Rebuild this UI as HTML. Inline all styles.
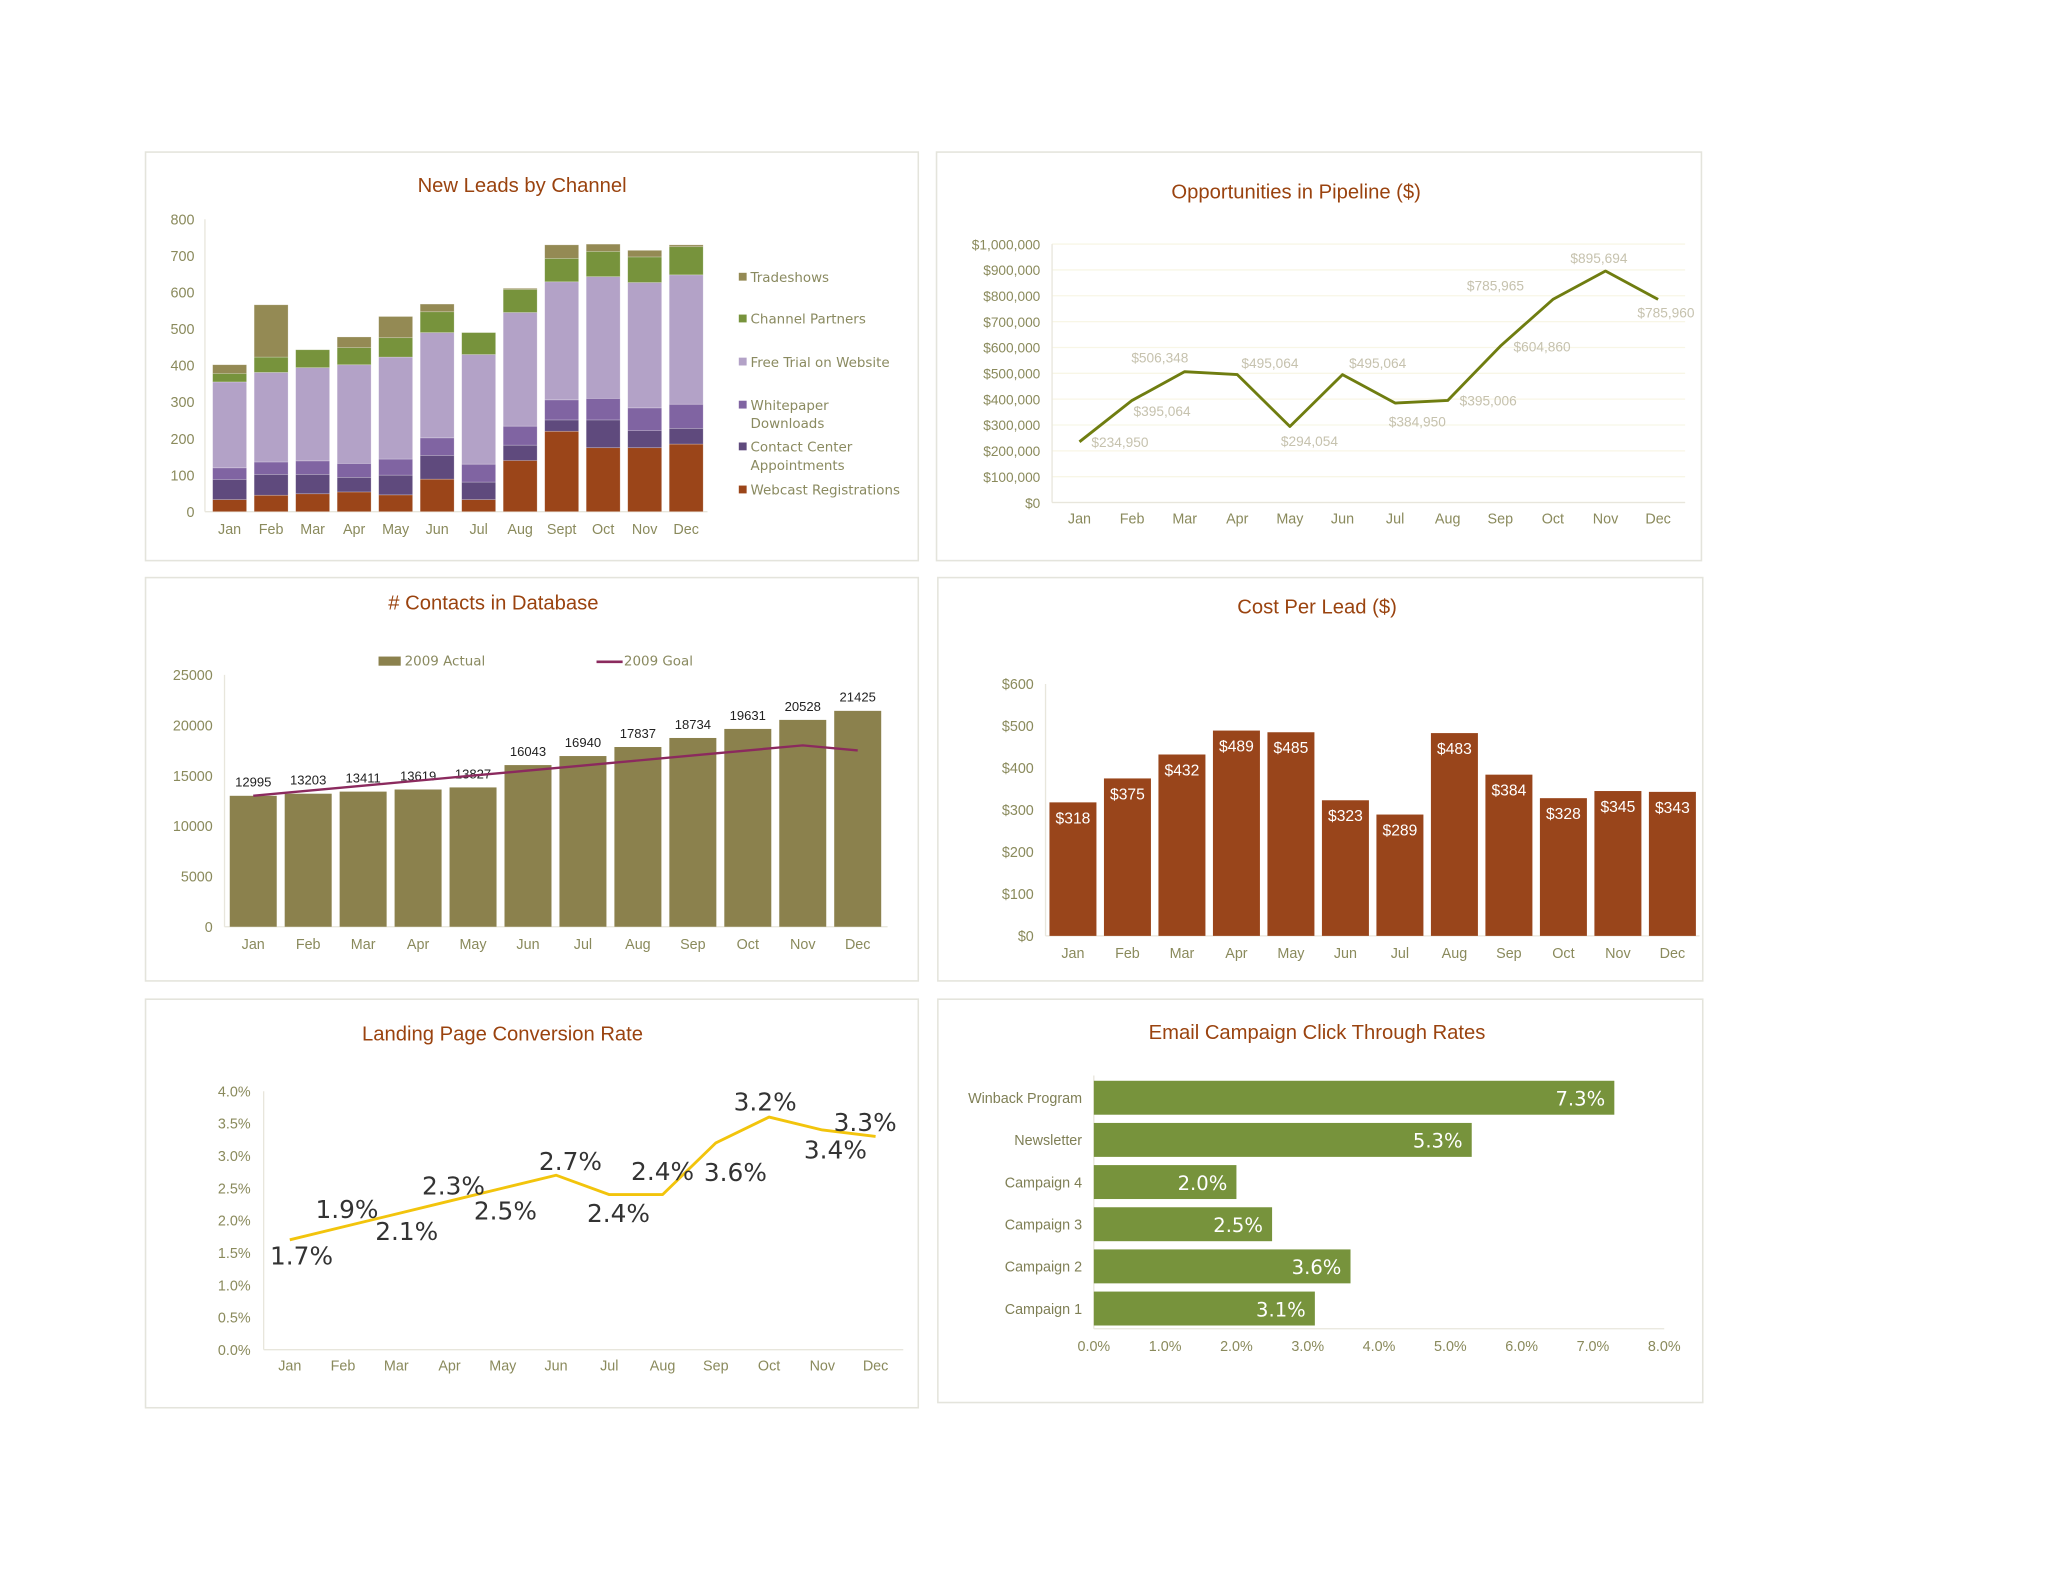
<!DOCTYPE html>
<html><head><meta charset="utf-8">
<style>
html,body{margin:0;padding:0;background:#fff;}
svg{display:block;font-family:"Liberation Sans",sans-serif;}
</style></head>
<body>
<svg id="dash" width="2048" height="1582" viewBox="0 0 1569 1212" xmlns="http://www.w3.org/2000/svg">
  <g fill="#fff" stroke="#e4e4dc" stroke-width="1.2">
    <rect x="111.5" y="116.5" width="592" height="313"/>
    <rect x="717.5" y="116.5" width="586" height="313"/>
    <rect x="111.5" y="442.5" width="592" height="309"/>
    <rect x="718.5" y="442.5" width="586" height="309"/>
    <rect x="111.5" y="765.5" width="592" height="313"/>
    <rect x="718.5" y="765.5" width="586" height="309"/>
  </g>
  <g fill="#9a430f" font-size="15.5" text-anchor="middle">
    <text x="400" y="147">New Leads by Channel</text>
    <text x="993" y="152">Opportunities in Pipeline ($)</text>
    <text x="378" y="467">&#35; Contacts in Database</text>
    <text x="1009" y="470">Cost Per Lead ($)</text>
    <text x="385" y="797">Landing Page Conversion Rate</text>
    <text x="1009" y="796">Email Campaign Click Through Rates</text>
  </g>
  <g id="g-leads"></g>
  <g id="g-pipe"></g>
  <g id="g-contacts"></g>
  <g id="g-cpl"></g>
  <g id="g-conv"></g>
  <g id="g-email"></g>
</svg>
<script>
// ---------- data ----------
const months = ["Jan","Feb","Mar","Apr","May","Jun","Jul","Aug","Sep","Oct","Nov","Dec"];
const leadMonths = ["Jan","Feb","Mar","Apr","May","Jun","Jul","Aug","Sept","Oct","Nov","Dec"];
const webcast = [33,45,49,54,46,89,33,140,220,175,175,185];
const contactCenter = [55,57,53,40,54,65,48,42,31,76,47,43];
const whitepaper = [32,34,37,38,44,48,49,52,55,59,62,66];
const freeTrial = [235,245,255,270,279,288,300,311,323,333,343,354];
const channelPartners = [23,42,49,47,53,57,60,63,64,69,70,77];
const tradeshows = [24,143,0,29,58,21,0,3,37,20,18,5];
const leadTicks = [0,100,200,300,400,500,600,700,800];

const pipeline = [234950,395064,506348,495064,294054,495064,384950,395006,604860,785965,895694,785960];
const pipeTicks = [0,100000,200000,300000,400000,500000,600000,700000,800000,900000,1000000];

const contactsActual = [12995,13203,13411,13619,13827,16043,16940,17837,18734,19631,20528,21425];
const contactsGoal = [13000,13500,14000,14500,15000,15500,16000,16500,17000,17500,18000,17500];
const contactTicks = [0,5000,10000,15000,20000,25000];

const costPerLead = [318,375,432,489,485,323,289,483,384,328,345,343];
const cplTicks = [0,100,200,300,400,500,600];

const conversion = [1.7,1.9,2.1,2.3,2.5,2.7,2.4,2.4,3.2,3.6,3.4,3.3];
const conversionLabels = ["1.7%","1.9%","2.1%","2.3%","2.5%","2.7%","2.4%","2.4%","3.6%","3.2%","3.4%","3.3%"];
const convTicks = [0,0.5,1,1.5,2,2.5,3,3.5,4];

const campaigns = ["Winback Program","Newsletter","Campaign 4","Campaign 3","Campaign 2","Campaign 1"];
const clickRates = [7.3,5.3,2.0,2.5,3.6,3.1];
const emailTicks = [0,1,2,3,4,5,6,7,8];

// ---------- helpers ----------
const NS="http://www.w3.org/2000/svg";
function mk(parent,tag,attrs,txt){const e=document.createElementNS(NS,tag);for(const k in attrs)e.setAttribute(k,attrs[k]);if(txt!==undefined)e.textContent=txt;parent.appendChild(e);return e;}
function lin(d0,d1,r0,r1){return v=>r0+(v-d0)/(d1-d0)*(r1-r0);}
function fmtMoney(v){return "$"+v.toLocaleString("en-US");}
const AX="#8a8a5c", GRID="#e8e6dc";

// ---------- leads stacked ----------
(function(){
  const g=document.getElementById("g-leads");
  const y=lin(0,800,392,168), x0=160, step=31.8, bw=26;
  const xc=i=>x0+step*i+step/2;
  mk(g,"line",{x1:157,y1:168,x2:157,y2:392,stroke:GRID});
  mk(g,"line",{x1:157,y1:392,x2:542,y2:392,stroke:GRID});
  leadTicks.forEach(t=>{const e=mk(g,"text",{x:149,y:y(t)+4,"text-anchor":"end","font-size":11,fill:AX},t);
    });
  const series=[["webcast",webcast,"#9b4519"],["contact-center",contactCenter,"#5f4a7d"],["whitepaper",whitepaper,"#8064a2"],["free-trial",freeTrial,"#b3a2c7"],["channel-partners",channelPartners,"#77933c"],["tradeshows",tradeshows,"#948a54"]];
  leadMonths.forEach((m,i)=>{
    let acc=0;
    series.forEach(s=>{const v=s[1][i];if(v<=0)return;
      const r=mk(g,"rect",{x:xc(i)-bw/2,y:y(acc+v),width:bw,height:y(acc)-y(acc+v),fill:s[2],stroke:"#fff","stroke-opacity":0.35,"stroke-width":0.5});
      
      acc+=v;});
    const t=mk(g,"text",{x:xc(i),y:409,"text-anchor":"middle","font-size":11,fill:AX},m);
    
  });
  const leg=[["Tradeshows","#948a54",216],["Channel Partners","#77933c",248],["Free Trial on Website","#b3a2c7",281],["Whitepaper","#8064a2",314],["Contact Center","#5f4a7d",346],["Webcast Registrations","#9b4519",379]];
  leg.forEach(l=>{const r=mk(g,"rect",{x:566,y:l[2]-7,width:6,height:6,fill:l[1]});
    
    const t=mk(g,"text",{x:575,y:l[2],fill:"#8a8a60","font-family":"DejaVu Sans, sans-serif","font-size":10.3},l[0]);
    });
  [["Downloads",328],["Appointments",360]].forEach(l=>{const t=mk(g,"text",{x:575,y:l[1],"font-size":10.3,fill:"#8a8a60","font-family":"DejaVu Sans, sans-serif"},l[0]);
    });
})();

// ---------- pipeline line ----------
(function(){
  const g=document.getElementById("g-pipe");
  const y=lin(0,1000000,385,187), x=i=>827+i*40.3;
  pipeTicks.forEach(t=>{mk(g,"line",{x1:806,y1:y(t),x2:1291,y2:y(t),stroke:"#f8f6e6"});
    const e=mk(g,"text",{x:797,y:y(t)+4,"text-anchor":"end","font-size":10.5,fill:AX},fmtMoney(t));
    });
  mk(g,"line",{x1:806,y1:187,x2:806,y2:385,stroke:GRID});
  mk(g,"line",{x1:806,y1:385,x2:1291,y2:385,stroke:GRID});
  months.forEach((m,i)=>{const t=mk(g,"text",{x:x(i),y:401,"text-anchor":"middle","font-size":11,fill:AX},m);
    });
  const p=mk(g,"polyline",{points:pipeline.map((v,i)=>x(i)+","+y(v)).join(" "),fill:"none",stroke:"#6f7d10","stroke-width":2.2,"stroke-linejoin":"round"});
  
  const off=[[31,0],[23,8],[-19,-11],[25,-9],[15,11],[27,-9],[17,14],[31,0],[32,0],[-44,-11],[-5,-10],[6,10]];
  pipeline.forEach((v,i)=>{const t=mk(g,"text",{x:x(i)+off[i][0],y:y(v)+off[i][1]+4,"text-anchor":"middle","font-size":10.5,fill:"#c6c2ae"},fmtMoney(v));
    });
})();

// ---------- contacts ----------
(function(){
  const g=document.getElementById("g-contacts");
  const y=lin(0,25000,710,517), step=42.1, x=i=>194+i*step, bw=36;
  contactTicks.forEach(t=>{const e=mk(g,"text",{x:163,y:y(t)+4,"text-anchor":"end","font-size":11,fill:AX},t);
    });
  mk(g,"line",{x1:172,y1:517,x2:172,y2:710,stroke:GRID});
  mk(g,"line",{x1:172,y1:710,x2:680,y2:710,stroke:GRID});
  contactsActual.forEach((v,i)=>{
    const r=mk(g,"rect",{x:x(i)-bw/2,y:y(v),width:bw,height:710-y(v),fill:"#8b814d"});
    
    const t=mk(g,"text",{x:x(i),y:y(v)-7,"text-anchor":"middle","font-size":10,fill:"#222"},v);
    
    const m=mk(g,"text",{x:x(i),y:727,"text-anchor":"middle","font-size":11,fill:AX},months[i]);
    
  });
  const p=mk(g,"polyline",{points:contactsGoal.map((v,i)=>x(i)+","+y(v)).join(" "),fill:"none",stroke:"#8b2a5e","stroke-width":1.8});
  
  const s=mk(g,"rect",{x:290,y:503,width:17,height:7,fill:"#8b814d"});
  
  const l1=mk(g,"text",{x:310,y:510,"font-size":10.3,fill:"#8a8a60","font-family":"DejaVu Sans, sans-serif"},"2009 Actual");
  
  const ln=mk(g,"line",{x1:457,y1:507,x2:477,y2:507,stroke:"#8b2a5e","stroke-width":2});
  
  const l2=mk(g,"text",{x:478,y:510,"font-size":10.3,fill:"#8a8a60","font-family":"DejaVu Sans, sans-serif"},"2009 Goal");
  
})();

// ---------- cost per lead ----------
(function(){
  const g=document.getElementById("g-cpl");
  const y=lin(0,600,717,524), step=41.75, x=i=>822+i*step, bw=36;
  cplTicks.forEach(t=>{const e=mk(g,"text",{x:792,y:y(t)+4,"text-anchor":"end","font-size":11,fill:AX},"$"+t);
    });
  mk(g,"line",{x1:801,y1:524,x2:801,y2:717,stroke:GRID});
  mk(g,"line",{x1:801,y1:717,x2:1302,y2:717,stroke:GRID});
  costPerLead.forEach((v,i)=>{
    const r=mk(g,"rect",{x:x(i)-bw/2,y:y(v),width:bw,height:717-y(v),fill:"#99451b"});
    
    const t=mk(g,"text",{x:x(i),y:y(v)+16,"text-anchor":"middle","font-size":12,fill:"#fff"},"$"+v);
    
    const m=mk(g,"text",{x:x(i),y:734,"text-anchor":"middle","font-size":11,fill:AX},months[i]);
    
  });
})();

// ---------- conversion ----------
(function(){
  const g=document.getElementById("g-conv");
  const y=lin(0,4,1034,836), x=i=>222+i*40.8;
  convTicks.forEach(t=>{const e=mk(g,"text",{x:192,y:y(t)+4,"text-anchor":"end","font-size":11,fill:AX},t.toFixed(1)+"%");
    });
  mk(g,"line",{x1:202,y1:836,x2:202,y2:1034,stroke:GRID});
  mk(g,"line",{x1:202,y1:1034,x2:692,y2:1034,stroke:GRID});
  months.forEach((m,i)=>{const t=mk(g,"text",{x:x(i),y:1050,"text-anchor":"middle","font-size":11,fill:AX},m);
    });
  const p=mk(g,"polyline",{points:conversion.map((v,i)=>x(i)+","+y(v)).join(" "),fill:"none",stroke:"#f2c40c","stroke-width":2.2,"stroke-linejoin":"round"});
  
  const off=[[9,12],[3,-14],[8,13],[3,-12],[2,17],[11,-11],[7,14],[0,-18],[15,22],[-3,-12],[10,15],[-8,-11]];
  conversion.forEach((v,i)=>{const t=mk(g,"text",{x:x(i)+off[i][0],y:y(v)+off[i][1]+7,"text-anchor":"middle","font-size":19,fill:"#333","font-family":"DejaVu Sans, sans-serif"},conversionLabels[i]);
    });
})();

// ---------- email ----------
(function(){
  const g=document.getElementById("g-email");
  const x=lin(0,8,838,1275), y0=841, step=32.3, bh=26;
  mk(g,"line",{x1:838,y1:824,x2:838,y2:1018,stroke:GRID});
  mk(g,"line",{x1:838,y1:1018,x2:1275,y2:1018,stroke:GRID});
  emailTicks.forEach(t=>{const e=mk(g,"text",{x:x(t),y:1035,"text-anchor":"middle","font-size":11,fill:AX},t.toFixed(1)+"%");
    });
  campaigns.forEach((c,i)=>{
    const yc=y0+i*step;
    const l=mk(g,"text",{x:829,y:yc+4,"text-anchor":"end","font-size":11,fill:"#7f7f55"},c);
    
    const r=mk(g,"rect",{x:838,y:yc-bh/2,width:x(clickRates[i])-838,height:bh,fill:"#77933c"});
    
    const t=mk(g,"text",{x:x(clickRates[i])-7,y:yc+6,"text-anchor":"end","font-size":15,fill:"#fff","font-family":"DejaVu Sans, sans-serif"},clickRates[i].toFixed(1)+"%");
    
  });
})();
</script>
</body></html>
